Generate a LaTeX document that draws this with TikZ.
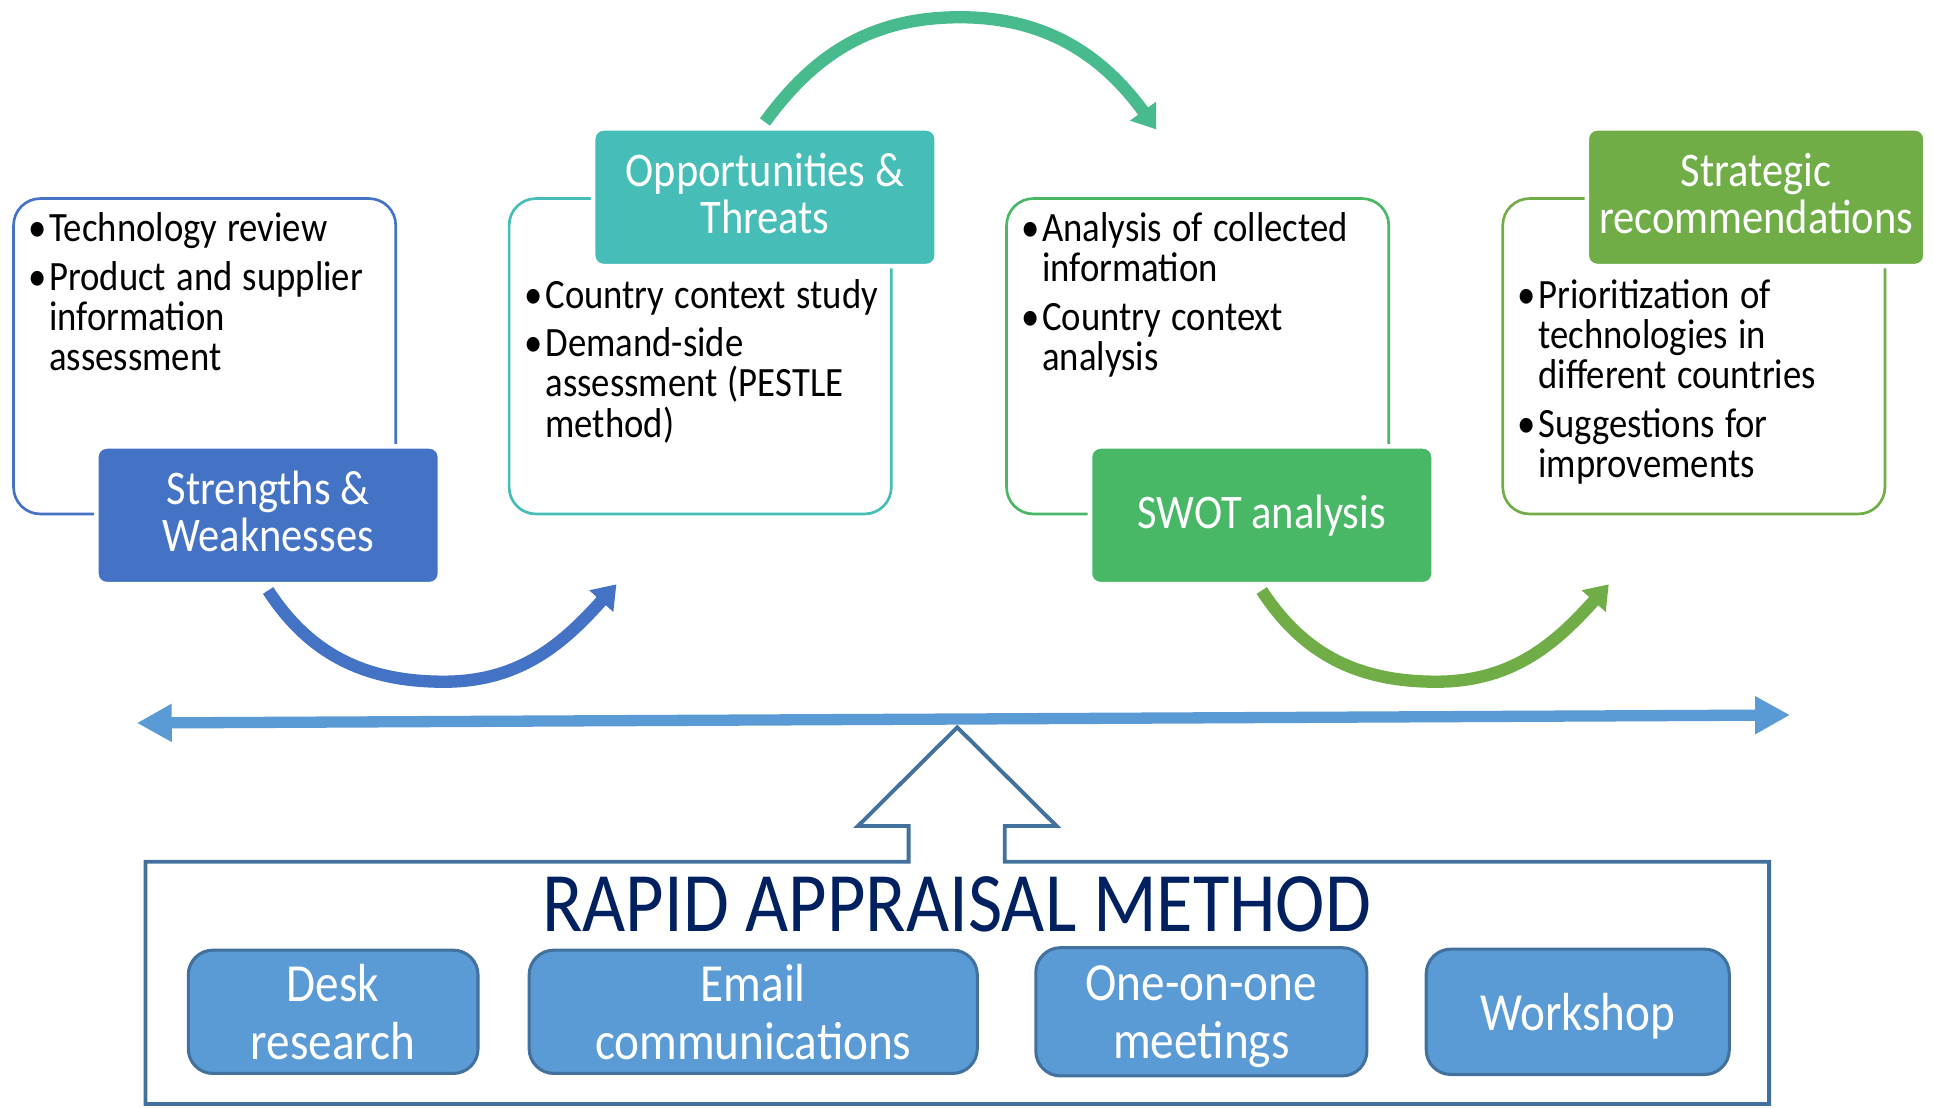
\documentclass[tikz,border=0pt]{standalone}
\usepackage{fontspec}
\setmainfont{Carlito}[FakeStretch=0.88]
\usetikzlibrary{positioning,arrows.meta}

\definecolor{swblue}{HTML}{4472C4}
\definecolor{otteal}{HTML}{46BDB6}
\definecolor{swotgreen}{HTML}{48B766}
\definecolor{recgreen}{HTML}{70AD47}
\definecolor{topgreen}{HTML}{47BA8E}
\definecolor{barblue}{HTML}{5B9BD5}
\definecolor{edgeblue}{HTML}{41719C}
\definecolor{navy}{HTML}{002060}

\setlength{\lineskiplimit}{-50pt}
\newcommand\itemfont{\fontsize{20.3}{19.6}\selectfont}
\newcommand\tagfont{\fontsize{23.5}{22.8}\selectfont}
\newcommand\wayfont{\fontsize{26.1}{28.2}\selectfont}
% bullets hang in the left margin, one paragraph per list
\newcommand\bul{\llap{\makebox[10pt][l]{\textbullet}}}
\newcommand\bitem{\leftskip=10pt\rightskip=0pt plus 1fil\spaceskip=5pt plus 1pt\noindent\bul}
\newcommand\nextitem{\vadjust{\vskip4pt}\newline\bul}

\begin{document}
\begin{tikzpicture}[x=0.6pt, y=0.6pt,
  box/.style={draw=#1, line width=1.3pt, rounded corners=13pt, minimum width=186pt, minimum height=153.5pt},
  tag/.style={fill=#1, draw=white, line width=2.2pt, rounded corners=5pt, minimum width=167.2pt, minimum height=67pt, inner sep=1pt, align=center, text=white, font=\tagfont},
  items/.style={anchor=base west, inner sep=0pt, text width=200pt, font=\itemfont},
  turn/.style={draw=#1, line width=6pt, -{Triangle[length=11pt,width=15pt]}},
  way/.style={fill=barblue, draw=edgeblue, line width=1.5pt, rounded corners=12pt, minimum height=60pt, inner sep=1pt, text depth=0pt, align=center, text=white, font=\wayfont}]
  \useasboundingbox (0,0) rectangle (1568,898);

  % outlined boxes
  \node[box=swblue] (swbox) at (166,609) {};
  \node[box=otteal] (otbox) at (568,609) {};
  \node[box=swotgreen] (swotbox) at (971.5,609) {};
  \node[box=recgreen] (recbox) at (1374,609) {};

  % bullet lists
  \node[items] (swlist) at (23,702) {\bitem Technology review\nextitem Product and supplier\newline information\newline assessment\par};
  \node[items] (otlist) at (425.5,648) {\bitem Country context study\nextitem Demand-side\newline assessment (PESTLE\newline method)\par};
  \node[items] (swotlist) at (828.5,702) {\bitem Analysis of collected\newline information\nextitem Country context\newline analysis\par};
  \node[items] (reclist) at (1231,648) {\bitem Prioritization of\newline technologies in\newline different countries\nextitem Suggestions for\newline improvements\par};

  % headings
  \node[tag=swblue, text depth=3.6pt] (sw) at (217.5,480) {Strengths \&\\Weaknesses};
  \node[tag=otteal, text depth=3.6pt] (ot) at (620.5,738) {Opportunities \&\\Threats};
  \node[tag=swotgreen] (swot) at (1023.5,480) {SWOT analysis};
  \node[tag=recgreen, text depth=3.6pt, minimum width=164.8pt] (rec) at (1424.5,738) {Strategic\\recommendations};

  % curved arrows from step to step
  \coordinate (swlow) at (360,345);
  \coordinate (swtip) at (500,424);
  \coordinate (othigh) at (779,884);
  \coordinate (ottip) at (938,793);
  \coordinate (swotlow) at (1165,345);
  \coordinate (swottip) at (1305,424);
  \draw[turn=swblue] ([yshift=-2pt]sw.south) to[out=-57,in=180] (swlow) to[out=0,in=-132] (swtip);
  \draw[turn=topgreen] ([yshift=2pt]ot.north) to[out=54,in=180] (othigh) to[out=0,in=126] (ottip);
  \draw[turn=recgreen] ([yshift=-2pt]swot.south) to[out=-57,in=180] (swotlow) to[out=0,in=-132] (swottip);

  % timeline
  \coordinate (tl) at (111,311.5);
  \coordinate (tr) at (1452,318);
  \draw[barblue, line width=5.5pt, {Triangle[length=17pt,width=17.4pt]}-{Triangle[length=17pt,width=17.4pt]}] (tl) -- (tr);

  % frame and block arrow
  \draw[edgeblue, line width=1.9pt] (118,199) -- (737,199) -- (737,228) -- (696,228) -- (776.5,308) -- (857,228) -- (815,228) -- (815,199) -- (1435,199) -- (1435,2.5) -- (118,2.5) -- cycle;
  \node[anchor=base, text=navy, font=\fontsize{41.2}{48}\selectfont] (ram) at (776,142.3) {RAPID APPRAISAL METHOD};

  % methods
  \node[way, minimum width=141pt] (desk) at (270.25,77.25) {Desk\\research};
  \node[way, minimum width=218.1pt, right=23.4pt of desk] (email) {Email\\communications};
  \node[way, minimum width=161.1pt, minimum height=62.4pt, right=27pt of email] (meet) {One-on-one\\meetings};
  \node[way, minimum width=147.5pt, minimum height=61pt, right=27.4pt of meet] (shop) {Workshop};
\end{tikzpicture}
\end{document}
